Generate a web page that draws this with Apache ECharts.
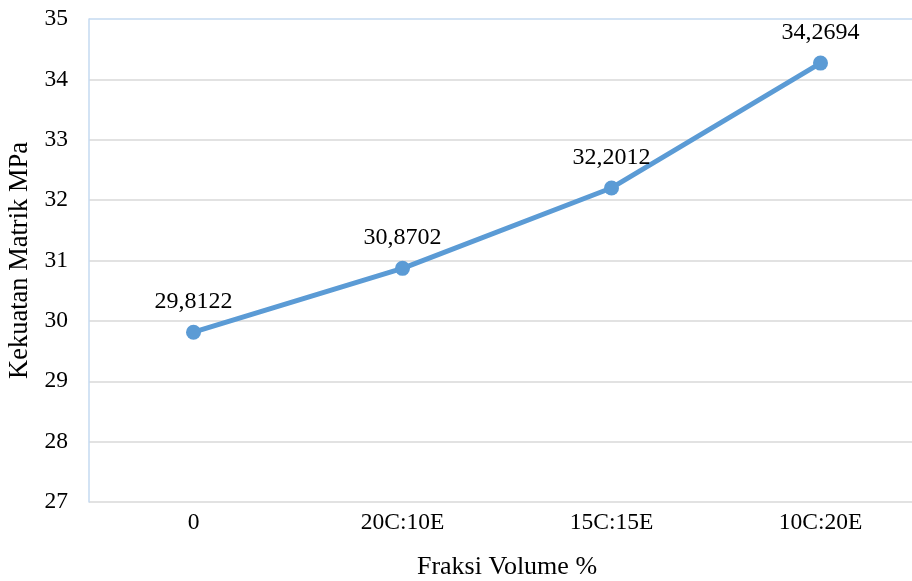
<!DOCTYPE html>
<html><head><meta charset="utf-8">
<script src="https://cdn.jsdelivr.net/npm/echarts@6/dist/echarts.min.js"></script>
<style>html,body{margin:0;padding:0;background:#fff}#c{width:912px;height:581px}</style>
</head><body><div id="c"></div>
<script>
const categories = ['0', '20C:10E', '15C:15E', '10C:20E'];
const values = [29.8122, 30.8702, 32.2012, 34.2694];
const labels = ['29,8122', '30,8702', '32,2012', '34,2694'];
const yTicks = [27, 35, 1];

const font = '"Liberation Serif", "Times New Roman", serif';
const chart = echarts.init(document.getElementById('c'), null, {renderer: 'canvas'});
chart.setOption({
  animation: false,
  backgroundColor: '#fff',
  grid: {left: 89, right: -13, top: 19, bottom: 79, outerBoundsMode: 'none', containLabel: false},
  xAxis: {
    type: 'category', data: categories, boundaryGap: true,
    name: 'Fraksi Volume %', nameLocation: 'middle', nameGap: 52,
    nameTextStyle: {fontFamily: font, fontSize: 26, color: '#000'},
    axisLine: {show: false}, axisTick: {show: false},
    axisLabel: {fontFamily: font, fontSize: 23.5, color: '#000', margin: 9}
  },
  yAxis: {
    type: 'value', min: yTicks[0], max: yTicks[1], interval: yTicks[2],
    name: 'Kekuatan Matrik MPa', nameLocation: 'middle', nameGap: 53,
    nameTextStyle: {fontFamily: font, fontSize: 26.5, color: '#000'},
    axisLine: {show: true, lineStyle: {color: '#c5daf0', width: 1.5}},
    axisTick: {show: false},
    axisLabel: {fontFamily: font, fontSize: 23.5, color: '#000', margin: 21},
    splitLine: {show: true, lineStyle: {color: ['#d9d9d9','#d9d9d9','#d9d9d9','#d9d9d9','#d9d9d9','#d9d9d9','#d9d9d9','#d9d9d9','#c5daf0'], width: 1.5}}
  },
  series: [{
    type: 'line', data: values,
    symbol: 'circle', symbolSize: 15,
    lineStyle: {color: '#5b9bd5', width: 5},
    itemStyle: {color: '#5b9bd5'},
    label: {show: true, position: 'top', distance: 11, fontFamily: font, fontSize: 24, color: '#000',
      formatter: p => labels[p.dataIndex]}
  }]
});
</script></body></html>
